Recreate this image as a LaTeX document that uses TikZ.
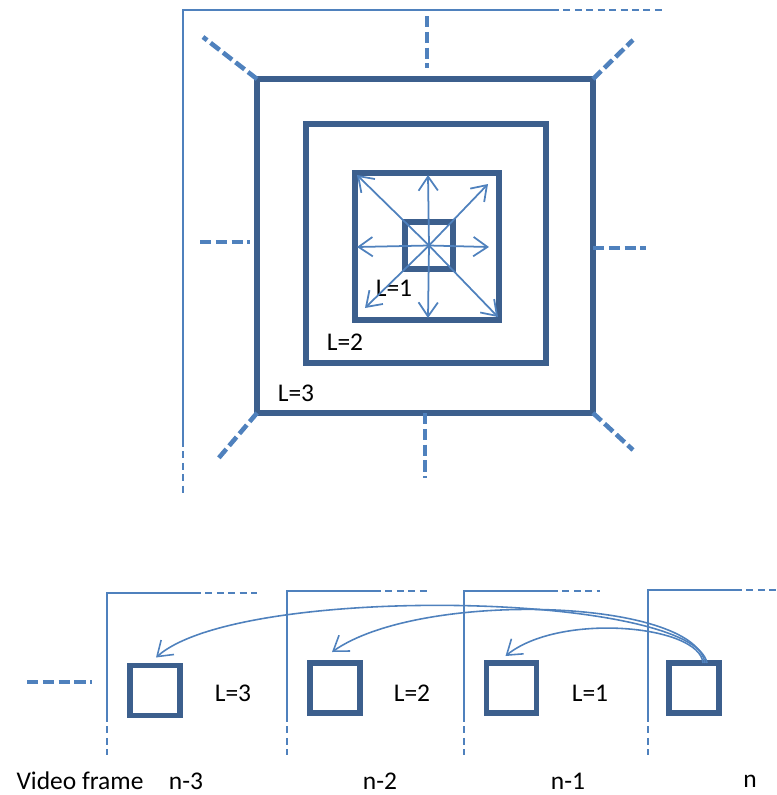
\documentclass[tikz,border=0pt]{standalone}
\usepackage{fontspec}
\setmainfont{Carlito}
\usetikzlibrary{arrows.meta,calc}
\definecolor{sqblue}{RGB}{60,95,141}
\definecolor{lineblue}{RGB}{79,129,189}
\tikzset{
	lvlsq/.style={draw=sqblue, line width=3.1pt, inner sep=0pt, outer sep=0pt},
	ray/.style={draw=lineblue, line width=1pt, -{Straight Barb[length=8pt,width=11pt]}},
	hop/.style={draw=lineblue, line width=0.9pt, -{Straight Barb[length=8pt,width=11pt]}},
	thickdash/.style={draw=lineblue, line width=2.6pt, dash pattern=on 6.5pt off 2.5pt},
	frameline/.style={draw=lineblue, line width=1.1pt},
	framedash/.style={draw=lineblue, line width=1.1pt, dash pattern=on 4pt off 2.5pt},
	lbl/.style={font=\fontsize{14.5}{16}\selectfont, inner sep=0pt},
}

\begin{document}
\begin{tikzpicture}[x=0.02cm, y=-0.02cm]
	%%%%% START %%%%%
	\useasboundingbox (0,0) rectangle (777,795);
	
	% top: one frame with the levels round the block
	\draw[frameline] (183,440) -- (183,10) -- (552,10);
	\draw[framedash] (552,10) -- (663,10);
	\draw[framedash] (183,440) -- (183,493);
	
	\node[lvlsq, minimum width=6.72cm, minimum height=6.68cm] (lvlthree) at (425,246) {};
	\node[lvlsq, minimum width=4.8cm, minimum height=4.78cm] (lvltwo) at (426,243.5) {};
	\node[lvlsq, minimum width=2.88cm, minimum height=2.94cm] (lvlone) at (427,246.5) {};
	\node[lvlsq, minimum width=0.96cm, minimum height=0.94cm] (core) at (429,245.5) {};
	
	\node[lbl] (labone) at (394,288) {L=1};
	\node[lbl] (labtwo) at (345,342) {L=2};
	\node[lbl] (labthree) at (296,393) {L=3};
	
	\coordinate (rayn) at (428,175);
	\coordinate (rays) at (428,318);
	\coordinate (rayw) at (357,247);
	\coordinate (raye) at (489,247);
	\coordinate (raynw) at (357,175);
	\coordinate (rayne) at (488,184);
	\coordinate (raysw) at (365,308);
	\coordinate (rayse) at (498,317);
	\foreach \r in {rayn,rays,rayw,raye,raynw,rayne,raysw,rayse}
		\draw[ray] (core.center) -- (\r);
	
	\coordinate (tlend) at (203,37);
	\coordinate (trend) at (633,40);
	\coordinate (blend) at (217,460);
	\coordinate (brend) at (633,450);
	\draw[thickdash] (lvlthree.north west) -- (tlend);
	\draw[thickdash] (lvlthree.north east) -- (trend);
	\draw[thickdash] (lvlthree.south west) -- (blend);
	\draw[thickdash] (lvlthree.south east) -- (brend);
	\draw[thickdash] (427,16) -- (427,68);
	\draw[thickdash] (lvlthree.south) -- (425,478);
	\draw[thickdash] (200,242) -- (250,242);
	\draw[thickdash] (593,248) -- (646,248);
	
	% bottom: video frames
	\foreach \fx/\fy/\fe in {107/593/257, 287/591/427, 464/591/600, 648/590/777} {
		\draw[frameline] (\fx,715) -- (\fx,\fy) -- (\fx+87,\fy);
		\draw[framedash] (\fx+87,\fy) -- (\fe,\fy);
		\draw[framedash] (\fx,715) -- (\fx,755);
	}
	\draw[thickdash] (27,682) -- (92,682);
	
	\node[lvlsq, minimum size=1cm] (fnthree) at (155,690.5) {};
	\node[lvlsq, minimum size=1cm] (fntwo) at (335,688) {};
	\node[lvlsq, minimum size=1cm] (fnone) at (511.5,688) {};
	\node[lvlsq, minimum size=1cm] (fnzero) at (694,688) {};
	
	\draw[hop] ($(fnzero.north)+(9,0)$) .. controls (700,625) and (560,612) .. ($(fnone.north)+(-6,-7)$);
	\draw[hop] ($(fnzero.north)+(11,0)$) .. controls (694,598) and (420,590) .. ($(fntwo.north)+(-3,-11)$);
	\draw[hop] ($(fnzero.north)+(13,0)$) .. controls (693,592) and (240,583) .. ($(fnthree.north)+(1,-8)$);
	
	\node[lbl] (hopthree) at (233,693) {L=3};
	\node[lbl] (hoptwo) at (412,693) {L=2};
	\node[lbl] (hopone) at (590,693) {L=1};
	
	\node[lbl] (vidframe) at (80,781) {Video frame};
	\node[lbl] (nthree) at (186,781) {n-3};
	\node[lbl] (ntwo) at (380,781) {n-2};
	\node[lbl] (none) at (568,781) {n-1};
	\node[lbl] (nzero) at (750,781) {n};
	
	%%%%% END %%%%%
\end{tikzpicture}
\end{document}
